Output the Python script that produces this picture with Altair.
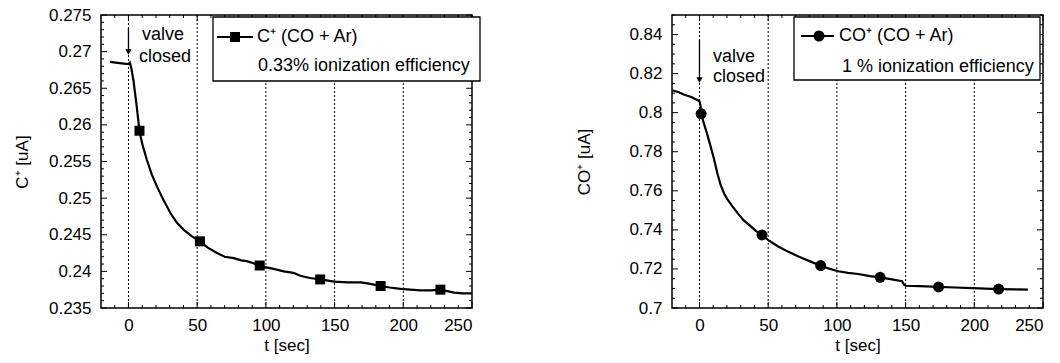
import altair as alt
import pandas as pd

# ---------------- data ----------------
c_t = [-13.5, -5, 0, 1, 2, 3.6, 6, 8, 10, 13.4, 17, 20.7, 25, 30.4, 35, 40, 46, 51.8, 58, 64.4,
       70, 76.6, 82, 86, 91, 96, 104, 113, 120, 125, 132, 140, 149.5, 160, 169, 176, 183.5,
       190, 198, 205, 212.7, 220, 227, 232, 237, 243, 250]
c_v = [0.2686, 0.2684, 0.2683, 0.2685, 0.2678, 0.2661, 0.2625, 0.2592, 0.2574, 0.2552, 0.2532,
       0.2516, 0.2499, 0.2480, 0.2467, 0.2457, 0.2448, 0.2441, 0.2432, 0.2425, 0.2420, 0.2418,
       0.2415, 0.2414, 0.2411, 0.2407, 0.2404, 0.2400, 0.2398, 0.2394, 0.2391, 0.2389, 0.2386,
       0.2385, 0.2385, 0.2383, 0.2380, 0.2378, 0.2376, 0.2375, 0.2374, 0.2374, 0.2375, 0.2373,
       0.2371, 0.2370, 0.2370]
c_mark_t = [8, 52, 95.5, 139.5, 183.5, 227]
c_mark_v = [0.2592, 0.2441, 0.2408, 0.2389, 0.2380, 0.2375]

co_t = [-20, -15, -11.5, -6, -2, 0, 0.8, 1.2, 3, 5.6, 8, 10.5, 13, 15.4, 18, 20, 24, 27.6, 32,
        37.4, 41, 45.5, 51, 57, 64, 71.6, 80, 88.2, 95, 101, 108, 115.6, 124, 131.5, 139, 147.4,
        149, 150, 160, 174, 186, 198.7, 208, 217.7, 230, 239]
co_v = [0.8115, 0.8105, 0.8093, 0.8080, 0.8066, 0.8059, 0.8035, 0.7994, 0.7950, 0.7890, 0.7830,
        0.7765, 0.7690, 0.7630, 0.7585, 0.7560, 0.7520, 0.7487, 0.7450, 0.7418, 0.7395, 0.7374,
        0.7343, 0.7316, 0.7290, 0.7265, 0.7240, 0.7217, 0.7200, 0.7188, 0.7180, 0.7174, 0.7163,
        0.7157, 0.7148, 0.7137, 0.7118, 0.7114, 0.7112, 0.7108, 0.7105, 0.7102, 0.7099, 0.7097,
        0.7095, 0.7094]
co_mark_t = [1.2, 45.5, 88.2, 131.5, 174, 217.7]
co_mark_v = [0.7994, 0.7374, 0.7217, 0.7157, 0.7108, 0.7097]

x_major = [0, 50, 100, 150, 200, 250]
x_minor = [-10, 10, 20, 30, 40, 60, 70, 80, 90, 110, 120, 130, 140, 160, 170, 180, 190,
           210, 220, 230, 240]
x_grid = [0, 50, 100, 150, 200]

c_y_major = [0.235, 0.24, 0.245, 0.25, 0.255, 0.26, 0.265, 0.27, 0.275]
co_y_major = [0.70, 0.72, 0.74, 0.76, 0.78, 0.80, 0.82, 0.84]

c_y_minor = [round(0.235 + 0.001 * i, 4) for i in range(41) if i % 5 != 0]
co_y_minor = [round(0.700 + 0.005 * i, 4) for i in range(31) if i % 4 != 0]

FONT = "Liberation Sans"
FS = 17
W, H = 371, 293


def panel(t, v, mt, mv, shape, msize, ydom, ymaj, ymin, yfmt, ytitle, ytpad,
          leg1, leg2, leg_box, leg_line, leg_sym_x, leg_txt_x, arrow, valve_pos):
    xs = alt.Scale(domain=[-20, 250], nice=False, zero=False)
    ys = alt.Scale(domain=ydom, nice=False, zero=False)
    line_df = pd.DataFrame({"t": t, "v": v})
    mark_df = pd.DataFrame({"t": mt, "v": mv})

    xaxis = alt.Axis(values=x_major, title="t [sec]", grid=False, ticks=False,
                     domain=False, labelPadding=9, titlePadding=4,
                     labelFont=FONT, titleFont=FONT, labelFontSize=FS, titleFontSize=FS,
                     labelColor="black", titleColor="black", titleFontWeight="normal")
    yaxis = alt.Axis(values=ymaj, format=yfmt, title=ytitle, grid=False, ticks=False,
                     domain=False, labelPadding=10, titlePadding=ytpad,
                     labelFont=FONT, titleFont=FONT, labelFontSize=FS, titleFontSize=FS,
                     labelColor="black", titleColor="black", titleFontWeight="normal")

    def X():
        return alt.X("t:Q", scale=xs, axis=xaxis, title="t [sec]")

    def Y():
        return alt.Y("v:Q", scale=ys, axis=yaxis, title=ytitle)

    line = alt.Chart(line_df).mark_line(color="black", strokeWidth=2.2).encode(x=X(), y=Y())
    grid = alt.Chart(pd.DataFrame({"t": x_grid})).mark_rule(
        color="black", strokeWidth=1, strokeDash=[2, 2]).encode(
        x=X(), y=alt.value(0), y2=alt.value(H))
    pts = alt.Chart(mark_df).mark_point(shape=shape, filled=True, color="black", size=msize,
                                        opacity=1).encode(x=X(), y=Y())

    layers = [line, grid]
    # inward ticks
    ymaj_df = pd.DataFrame({"v": ymaj})
    ymin_df = pd.DataFrame({"v": ymin})
    xmaj_df = pd.DataFrame({"t": x_major})
    xmin_df = pd.DataFrame({"t": x_minor})
    for df, ln in ((ymaj_df, 6), (ymin_df, 3)):
        for x0, x1 in ((0, ln), (W, W - ln)):
            layers.append(alt.Chart(df).mark_rule(color="black", strokeWidth=1).encode(
                y=Y(), x=alt.value(x0), x2=alt.value(x1)))
    for df, ln in ((xmaj_df, 6), (xmin_df, 3)):
        for y0, y1 in ((H, H - ln), (0, ln)):
            layers.append(alt.Chart(df).mark_rule(color="black", strokeWidth=1).encode(
                x=X(), y=alt.value(y0), y2=alt.value(y1)))

    # arrow + "valve closed"
    ay0, ay1 = arrow
    layers.append(alt.Chart(pd.DataFrame({"t": [0]})).mark_rule(color="black", strokeWidth=1.3).encode(
        x=X(), y=alt.value(ay0), y2=alt.value(ay1 - 4)))
    layers.append(alt.Chart(pd.DataFrame({"t": [0]})).mark_point(
        shape="triangle-down", filled=True, color="black", size=40, opacity=1).encode(
        x=X(), y=alt.value(ay1 - 3)))
    (vx1, vy1), (vx2, vy2) = valve_pos
    for txt, xx, yy in (("valve", vx1, vy1), ("closed", vx2, vy2)):
        layers.append(alt.Chart(pd.DataFrame({"a": [txt]})).mark_text(
            align="left", baseline="alphabetic", font=FONT, fontSize=18, color="black").encode(
            text="a:N", x=alt.value(xx), y=alt.value(yy)))

    layers.append(pts)

    # legend box
    bx0, bx1, by0, by1 = leg_box
    layers.append(alt.Chart(pd.DataFrame({"a": [0]})).mark_rect(
        fill="white", stroke="black", strokeWidth=1.3).encode(
        x=alt.value(bx0), x2=alt.value(bx1), y=alt.value(by0), y2=alt.value(by1)))
    lx0, lx1, ly = leg_line
    layers.append(alt.Chart(pd.DataFrame({"a": [0]})).mark_rule(color="black", strokeWidth=2).encode(
        x=alt.value(lx0), x2=alt.value(lx1), y=alt.value(ly)))
    layers.append(alt.Chart(pd.DataFrame({"a": [0]})).mark_point(
        shape=shape, filled=True, color="black", size=msize, opacity=1).encode(
        x=alt.value(leg_sym_x), y=alt.value(ly)))
    (tx1, ty1), (tx2, ty2) = leg_txt_x
    for txt, xx, yy in ((leg1, tx1, ty1), (leg2, tx2, ty2)):
        layers.append(alt.Chart(pd.DataFrame({"a": [txt]})).mark_text(
            align="left", baseline="middle", font=FONT, fontSize=18, color="black").encode(
            text="a:N", x=alt.value(xx), y=alt.value(yy)))

    return alt.layer(*layers).properties(width=W, height=H)


left = panel(c_t, c_v, c_mark_t, c_mark_v, "square", 100, [0.235, 0.275], c_y_major, c_y_minor,
             ".3~f", "C⁺ [uA]", 17, "C⁺ (CO + Ar)", "0.33% ionization efficiency",
             (112, 379, 2, 66), (116, 152, 22), 134, ((156, 22), (157, 51)),
             (13, 40), ((41, 25), (38, 47)))

right = panel(co_t, co_v, co_mark_t, co_mark_v, "circle", 121, [0.70, 0.85], co_y_major, co_y_minor,
              ".2~f", "CO⁺ [uA]", 35, "CO⁺ (CO + Ar)", "1 % ionization efficiency",
              (122, 368, 2, 65), (129, 162, 21), 147, ((167, 21), (170, 52)),
              (25, 68), ((41, 47), (41, 67)))

chart = alt.hconcat(left, right, spacing=93).properties(
    padding={"left": 12, "top": 5, "right": 5, "bottom": 5}, background="white"
).configure_view(stroke="black", strokeWidth=1.5)

chart.save("out.html", embed_options={"renderer": "svg", "actions": False})
